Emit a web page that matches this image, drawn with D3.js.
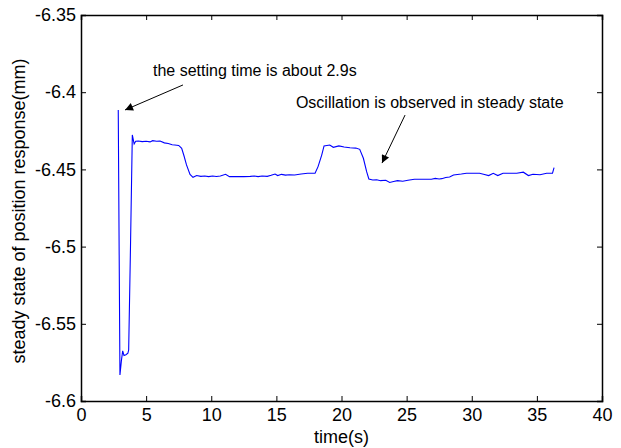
<!DOCTYPE html>
<html>
<head>
<meta charset="utf-8">
<script src="https://cdn.jsdelivr.net/npm/d3@7"></script>
<style>
  body { margin: 0; background: #fff; }
  svg { display: block; font-family: "Liberation Sans", Arial, sans-serif; }
</style>
</head>
<body>
<div id="chart"></div>
<script>
// time (s) and steady state position (mm)
const time = [
    2.86, 2.99, 3.10, 3.20, 3.30, 3.45, 3.60, 3.66, 3.80, 3.94,
    4.08, 4.20, 4.40, 4.70, 5.00, 5.30, 5.50, 5.80, 6.07, 6.40,
    6.70, 7.00, 7.20, 7.50, 7.73, 7.90, 8.10, 8.37, 8.60, 8.88,
    9.20, 9.50, 9.80, 10.10, 10.40, 10.70, 11.10, 11.40, 12.00, 12.50,
    13.00, 13.30, 13.60, 13.90, 14.30, 14.60, 14.90, 15.10, 15.40, 15.70,
    16.00, 16.40, 16.90, 17.40, 17.97, 18.20, 18.48, 18.66, 19.10, 19.37,
    19.80, 20.20, 20.65, 21.10, 21.40, 21.68, 21.93, 22.10, 22.40, 22.70,
    23.00, 23.40, 23.70, 24.00, 24.30, 24.70, 25.10, 25.60, 26.30, 26.90,
    27.20, 27.50, 27.70, 28.00, 28.30, 28.60, 29.20, 29.60, 30.00, 30.60,
    30.90, 31.30, 31.65, 32.00, 32.40, 33.00, 33.45, 33.96, 34.35, 34.70,
    35.24, 35.75, 36.20, 36.32
];
const position = [
    -6.4115, -6.5832, -6.5740, -6.5675, -6.5705, -6.5700, -6.5690, -6.5670, -6.5000, -6.4277,
    -6.4335, -6.4318, -6.4316, -6.4320, -6.4318, -6.4322, -6.4314, -6.4318, -6.4316, -6.4328,
    -6.4332, -6.4340, -6.4342, -6.4345, -6.4363, -6.4410, -6.4471, -6.4532, -6.4551, -6.4540,
    -6.4545, -6.4543, -6.4547, -6.4543, -6.4546, -6.4543, -6.4532, -6.4547, -6.4547, -6.4547,
    -6.4545, -6.4543, -6.4547, -6.4543, -6.4545, -6.4538, -6.4530, -6.4540, -6.4532, -6.4537,
    -6.4535, -6.4536, -6.4530, -6.4525, -6.4525, -6.4482, -6.4407, -6.4348, -6.4342, -6.4357,
    -6.4348, -6.4355, -6.4360, -6.4362, -6.4370, -6.4428, -6.4515, -6.4562, -6.4569, -6.4567,
    -6.4573, -6.4570, -6.4585, -6.4578, -6.4573, -6.4577, -6.4570, -6.4564, -6.4564, -6.4564,
    -6.4558, -6.4562, -6.4560, -6.4552, -6.4549, -6.4536, -6.4530, -6.4525, -6.4525, -6.4525,
    -6.4531, -6.4540, -6.4525, -6.4540, -6.4525, -6.4525, -6.4525, -6.4518, -6.4540, -6.4531,
    -6.4535, -6.4525, -6.4525, -6.4489
];

const xTicks = [0, 5, 10, 15, 20, 25, 30, 35, 40];
const yTicks = [-6.6, -6.55, -6.5, -6.45, -6.4, -6.35];

// annotations: text anchor and arrow tail -> tip, in data units
const notes = [
    {text: 'the setting time is about 2.9s', tx: 5.53, ty: -6.3895,
        from: [7.83, -6.3953], to: [3.38, -6.4115]},
    {text: 'Oscillation is observed in steady state', tx: 16.5, ty: -6.4102,
        from: [24.88, -6.4148], to: [23.11, -6.4459]}
];

const svgWidth = 621;
const svgHeight = 448;
const margins = {t: 15, r: 19, b: 47, l: 81};
const graphWidth = svgWidth - margins.l - margins.r;
const graphHeight = svgHeight - margins.t - margins.b;

const svg = d3.select('#chart')
    .append('svg')
    .attr('width', svgWidth)
    .attr('height', svgHeight);

const g = svg.append('g').attr('transform', `translate(${margins.l},${margins.t})`);

const x = d3.scaleLinear().domain([0, 40]).range([0, graphWidth]);
const y = d3.scaleLinear().domain([-6.6, -6.35]).range([graphHeight, 0]);

const rows = time.map((t, i) => ({t: t, v: position[i]}));

const line = d3.line()
    .x(d => x(d.t))
    .y(d => y(d.v));

g.append('path')
    .datum(rows)
    .attr('fill', 'none')
    .attr('stroke', '#0000ff')
    .attr('stroke-width', 1.1)
    .attr('d', line);

// axes, ticks pointing inward, mirrored on top/right
// plain hyphen like the original, not the unicode minus
const fmtY = d => String(+d.toFixed(2));

g.append('g')
    .attr('class', 'x-axis')
    .attr('transform', `translate(0,${graphHeight})`)
    .call(d3.axisBottom(x).tickValues(xTicks).tickSize(-5).tickPadding(7).tickFormat(d3.format('d')));

g.append('g')
    .attr('class', 'x-axis-top')
    .call(d3.axisTop(x).tickValues(xTicks).tickSize(-5).tickFormat(''));

g.append('g')
    .attr('class', 'y-axis')
    .call(d3.axisLeft(y).tickValues(yTicks).tickSize(-5).tickPadding(5).tickFormat(fmtY));

g.append('g')
    .attr('class', 'y-axis-right')
    .attr('transform', `translate(${graphWidth},0)`)
    .call(d3.axisRight(y).tickValues(yTicks).tickSize(-5).tickFormat(''));

g.selectAll('.domain').attr('stroke', '#000').attr('stroke-width', 1.5);
g.selectAll('.tick line').attr('stroke', '#000');
g.selectAll('.tick text')
    .style('font-size', '18px')
    .style('font-family', '"Liberation Sans", Arial, sans-serif')
    .attr('fill', '#000');

// arrowhead
svg.append('defs').append('marker')
    .attr('id', 'head')
    .attr('viewBox', '0 0 10 10')
    .attr('refX', 10)
    .attr('refY', 5)
    .attr('markerUnits', 'userSpaceOnUse')
    .attr('markerWidth', 11)
    .attr('markerHeight', 8)
    .attr('orient', 'auto')
    .append('path')
    .attr('d', 'M0,0L10,5L0,10z')
    .attr('fill', '#000');

g.selectAll('line.arrow')
    .data(notes)
    .join('line')
    .attr('class', 'arrow')
    .attr('x1', d => x(d.from[0]))
    .attr('y1', d => y(d.from[1]))
    .attr('x2', d => x(d.to[0]))
    .attr('y2', d => y(d.to[1]))
    .attr('stroke', '#000')
    .attr('stroke-width', 1)
    .attr('marker-end', 'url(#head)');

g.selectAll('text.note')
    .data(notes)
    .join('text')
    .attr('class', 'note')
    .attr('x', d => x(d.tx))
    .attr('y', d => y(d.ty))
    .style('font-size', '16px')
    .text(d => d.text);

//axis titles
svg.append('text')
    .attr('text-anchor', 'middle')
    .attr('x', margins.l + graphWidth / 2)
    .attr('y', 443)
    .style('font-size', '18px')
    .text('time(s)');

svg.append('text')
    .attr('text-anchor', 'middle')
    .attr('transform', `translate(25,${margins.t + graphHeight / 2 + 3}) rotate(-90)`)
    .style('font-size', '18px')
    .text('steady state of position response(mm)');
</script>
</body>
</html>
